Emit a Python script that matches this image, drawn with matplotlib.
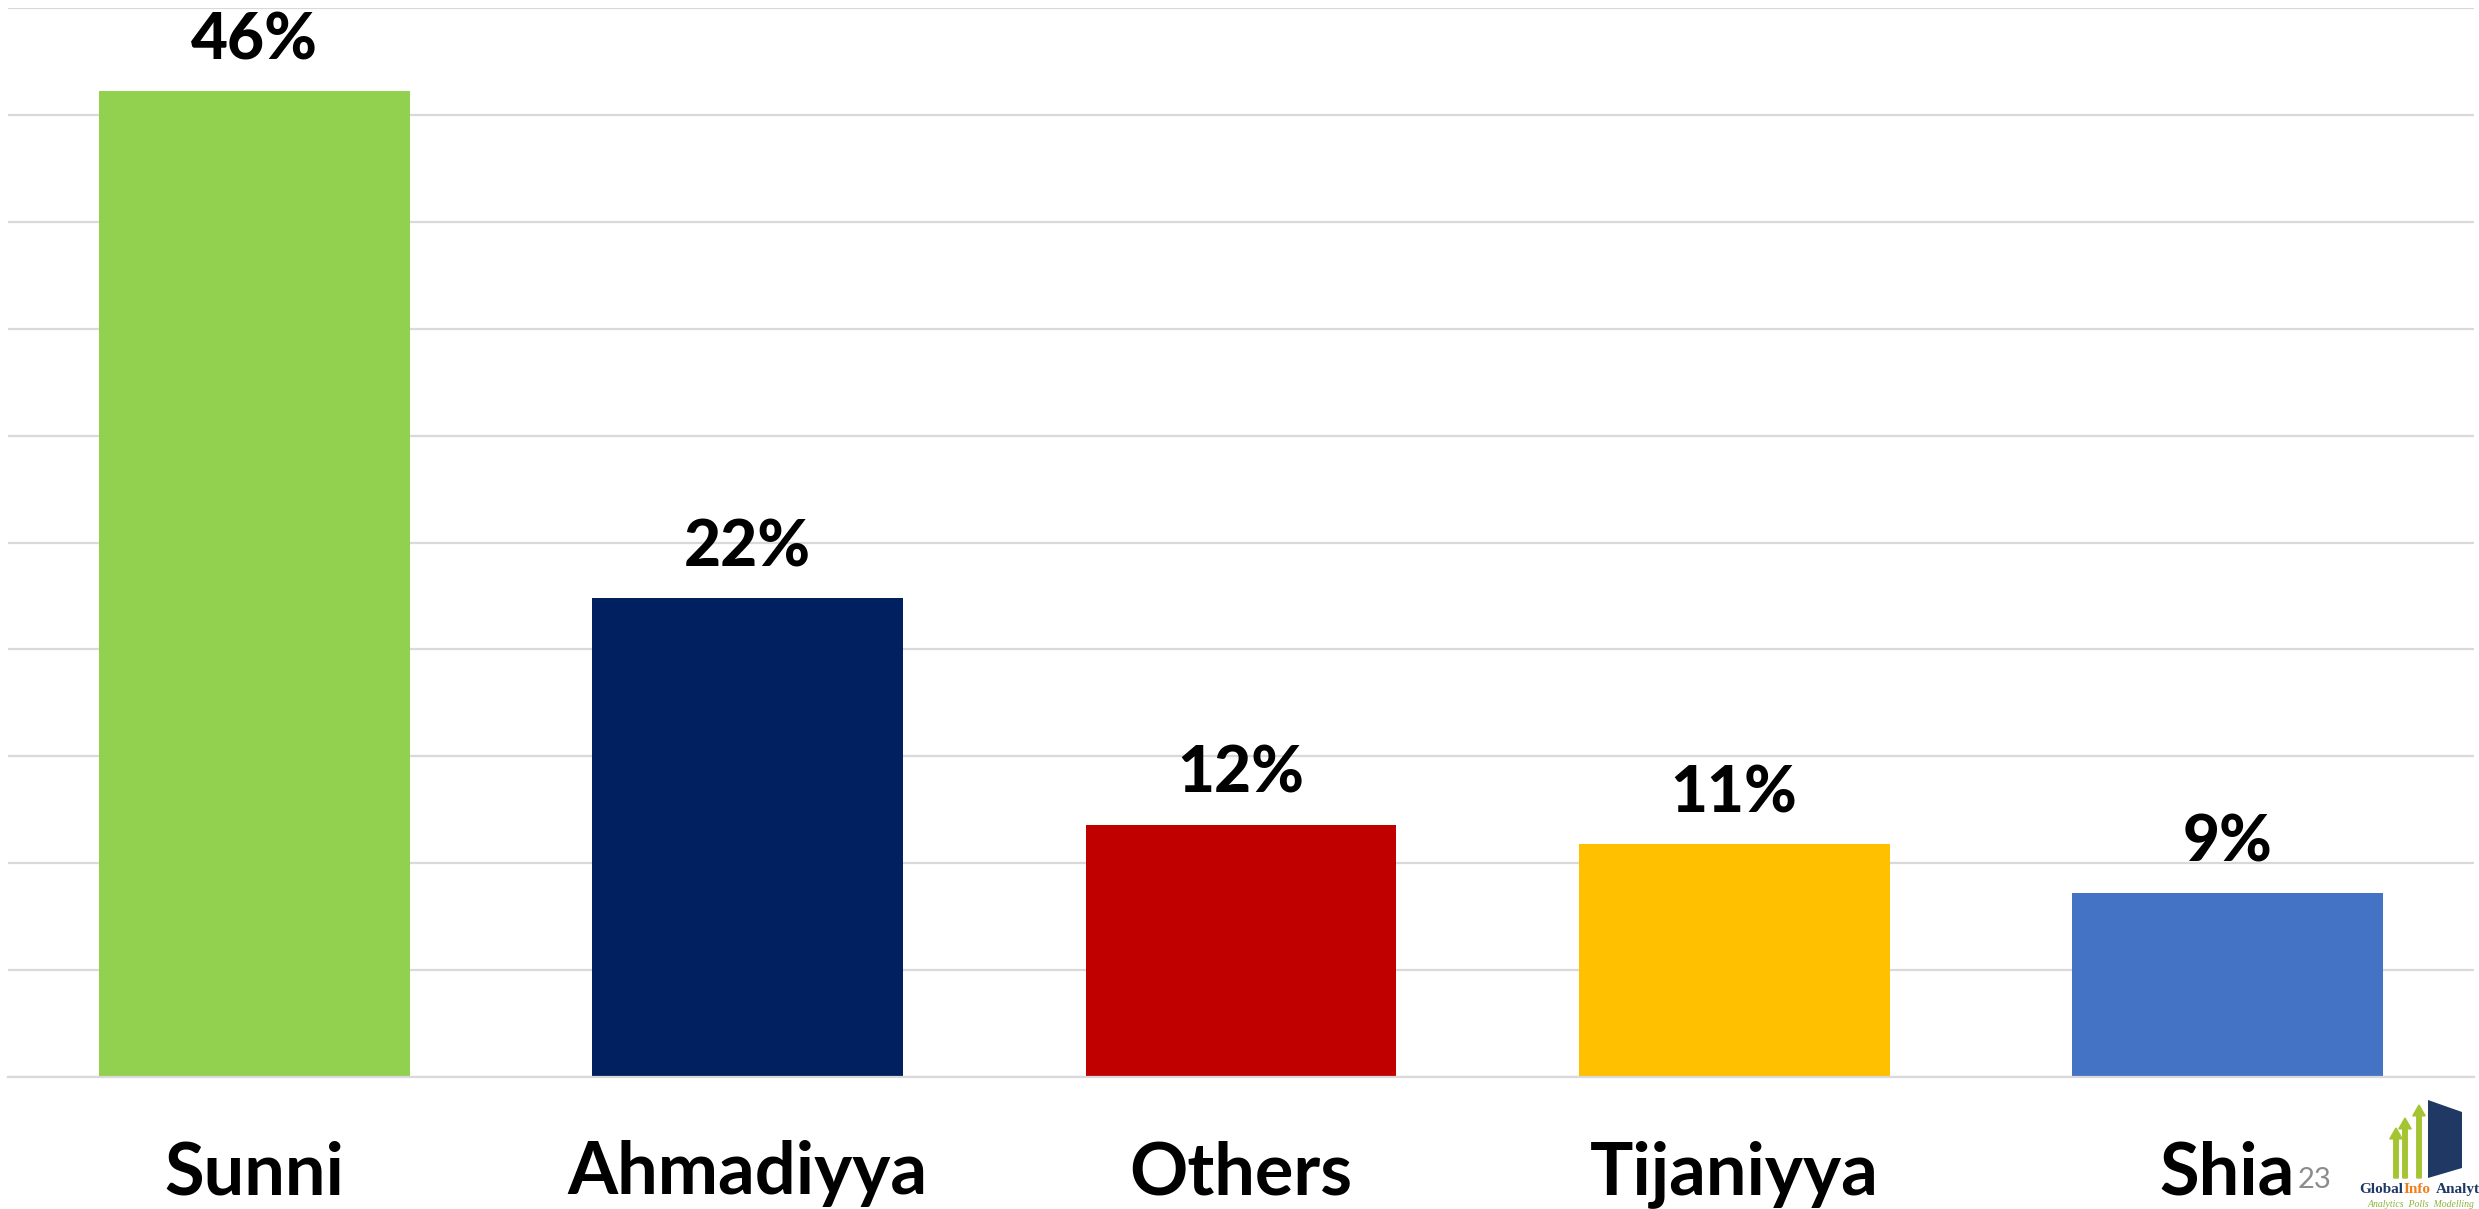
import matplotlib.pyplot as plt
import numpy as np
from matplotlib.patches import Polygon, FancyArrow

# data
groups = ["Sunni", "Ahmadiyya", "Others", "Tijaniyya", "Shia"]
shares = [46.1, 22.4, 11.8, 10.9, 8.6]
share_labels = ["46%", "22%", "12%", "11%", "9%"]
bar_colors = ["#92D050", "#002060", "#C00000", "#FFC000", "#4472C4"]

plt.rcParams['font.family'] = ['Lato', 'DejaVu Sans']

fig = plt.figure(figsize=(24.79, 12.09), dpi=100)
ax = fig.add_axes([8/2479, 1 - 1077/1209, (2474 - 8)/2479, (1077 - 8)/1209])

x = np.arange(len(groups))
bars = ax.bar(x, shares, width=0.63, color=bar_colors, zorder=2)

for rect, lab in zip(bars, share_labels):
    ax.annotate(lab, (rect.get_x() + rect.get_width()/2, rect.get_height()),
                xytext=(0, 15), textcoords='offset points',
                ha='center', va='bottom', fontsize=46, fontweight='black')

ax.set_xlim(-0.5, len(groups) - 0.5)
ax.set_ylim(0, 50)
ax.set_yticks(np.arange(0, 51, 5))
ax.yaxis.grid(True, color='#d9d9d9', linewidth=1.6, zorder=0)
ax.tick_params(axis='y', left=False, labelleft=False)
ax.tick_params(axis='x', bottom=False, pad=42)
ax.set_xticks(x)
ax.set_xticklabels(groups, fontsize=52, fontweight='bold')
for s in ['top', 'left', 'right']:
    ax.spines[s].set_visible(False)
ax.spines['bottom'].set_color('#d9d9d9')
ax.spines['bottom'].set_linewidth(1.6)

# slide number
fig.text(2298/2479, 1 - 1188/1209, "23", fontsize=21, color='#8c8c8c',
         ha='left', va='baseline')

# small logo in the bottom-right corner
W, H = 2479, 1209
def fx(px):
    return px / W
def fy(py):
    return 1 - py / H
fig.patches.append(Polygon([(fx(2428), fy(1100)), (fx(2462), fy(1112)),
                            (fx(2462), fy(1168)), (fx(2428), fy(1178))],
                           closed=True, transform=fig.transFigure,
                           facecolor='#1f3864', edgecolor='none'))
for ax_x, top in [(2396, 1128), (2405, 1118), (2419, 1105)]:
    fig.patches.append(FancyArrow(fx(ax_x), fy(1178), 0, fy(top) - fy(1178),
                                  width=0.0018, head_width=0.005,
                                  head_length=0.009, length_includes_head=True,
                                  transform=fig.transFigure,
                                  color='#a4c431'))
serif = ['Liberation Serif', 'DejaVu Serif']
fig.text(fx(2359), fy(1193), "Global", fontsize=11, fontweight='bold',
         family=serif, color='#1f3864', va='baseline')
fig.text(fx(2404), fy(1193), "Info", fontsize=11, fontweight='bold',
         family=serif, color='#f07f1b', va='baseline')
fig.text(fx(2436), fy(1193), "Analytics", fontsize=11, fontweight='bold',
         family=serif, color='#1f3864', va='baseline')
fig.text(fx(2368), fy(1207), "Analytics  Polls  Modelling", fontsize=7,
         style='italic', family=serif, color='#8db33a', va='baseline')

fig.savefig("out.png", dpi=100)
